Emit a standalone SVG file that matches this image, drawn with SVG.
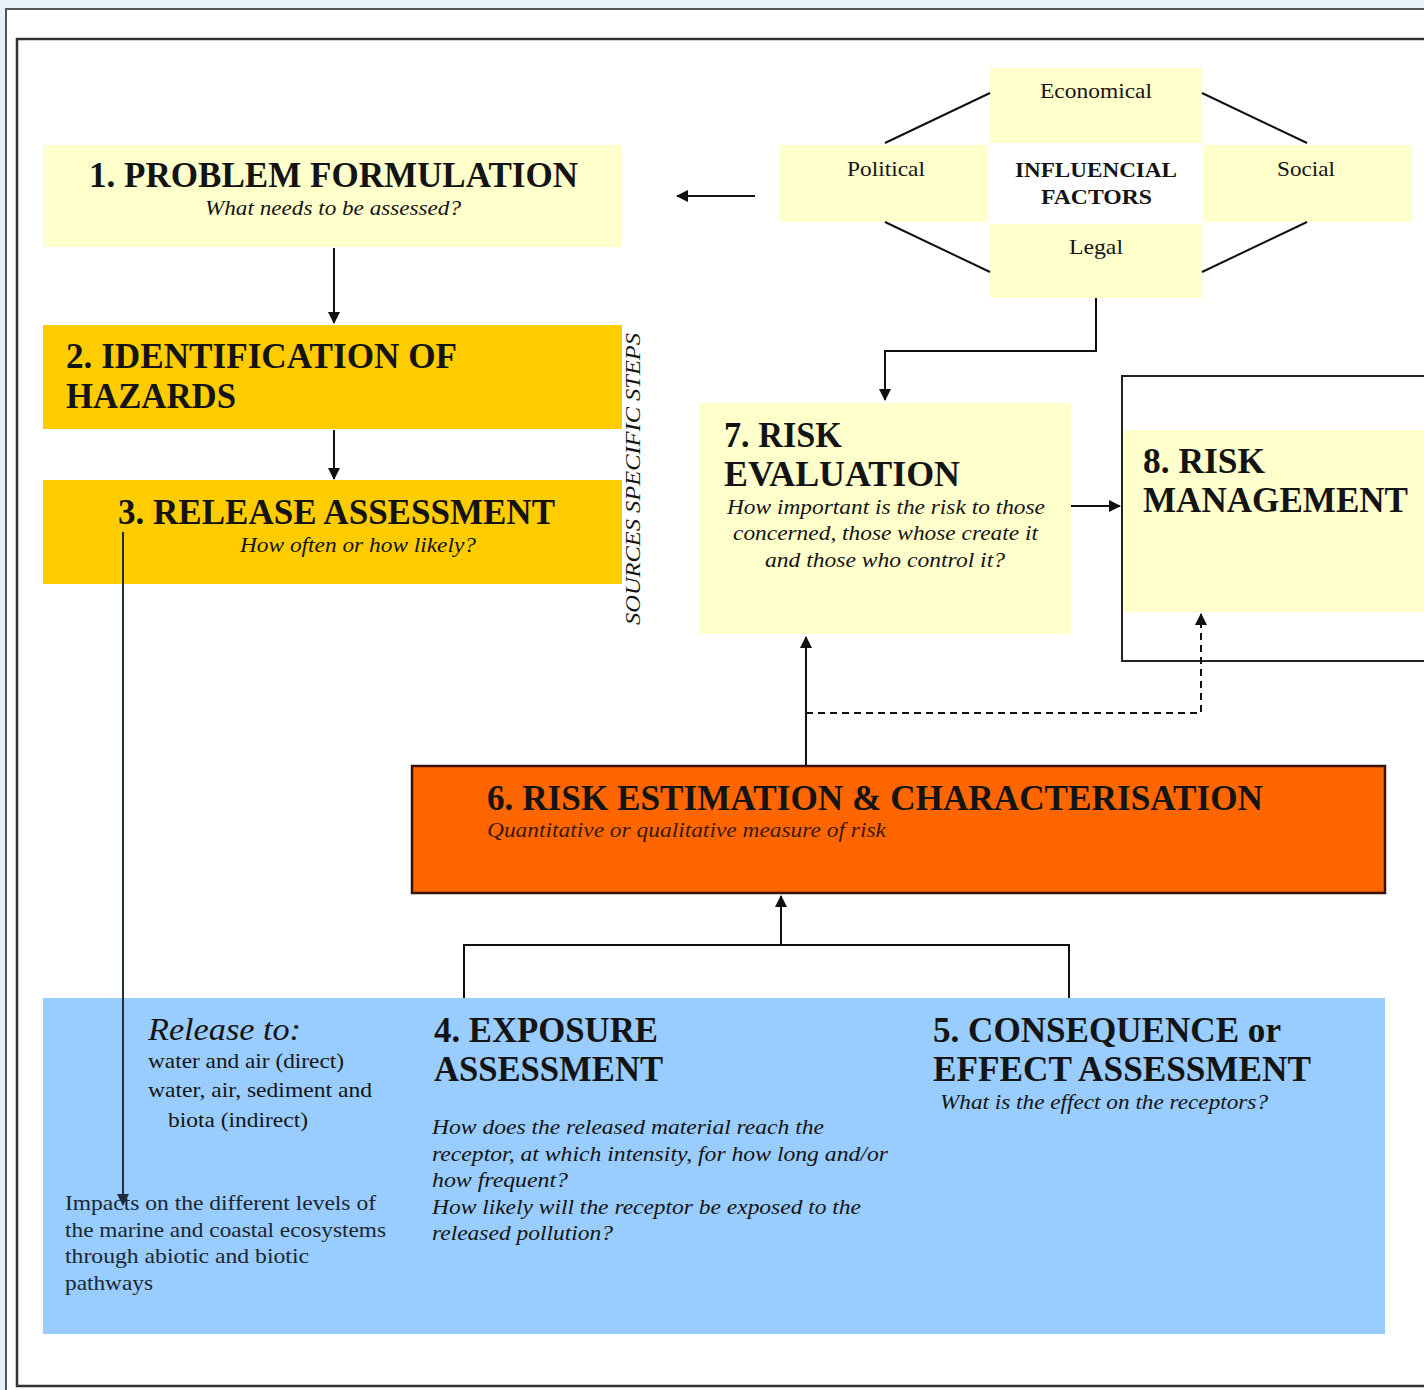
<svg xmlns="http://www.w3.org/2000/svg" width="1424" height="1390" viewBox="0 0 1424 1390">
<style>
text{font-family:"Liberation Serif","Times New Roman",serif;fill:#141414}
.t{font-weight:bold;font-size:35px}
.s{font-style:italic;font-size:21px}
.f{font-size:21px}
.ln{stroke:#111;stroke-width:2;fill:none}
.pale{fill:#FFFFCC}
</style>
<defs>
<marker id="ah" viewBox="0 0 12 12" refX="11" refY="6" markerWidth="12" markerHeight="12" markerUnits="userSpaceOnUse" orient="auto">
<path d="M0,0 L12,6 L0,12 z" fill="#111"/>
</marker>
<marker id="ah2" viewBox="0 0 12 12" refX="11" refY="6" markerWidth="12" markerHeight="12" markerUnits="userSpaceOnUse" orient="auto">
<path d="M0,0 L12,6 L0,12 z" fill="#1e2e3a"/>
</marker>
</defs>
<rect x="0" y="0" width="1424" height="1390" fill="#e9f0f8"/>
<rect x="6" y="9" width="1430" height="1390" fill="#ffffff" stroke="#555" stroke-width="2"/>
<rect x="17" y="39" width="1420" height="1347" fill="#ffffff" stroke="#333" stroke-width="2.5"/>

<g id="n1">
<rect class="pale" x="43" y="145" width="579" height="102"/>
<text class="t" x="89" y="187" textLength="489" lengthAdjust="spacingAndGlyphs">1. PROBLEM FORMULATION</text>
<text class="s" x="205" y="215" textLength="256" lengthAdjust="spacingAndGlyphs">What needs to be assessed?</text>
</g>

<g id="factors">
<rect class="pale" x="990" y="68" width="212" height="75"/>
<rect class="pale" x="780" y="145" width="208" height="77"/>
<rect class="pale" x="1204" y="145" width="208" height="77"/>
<rect class="pale" x="990" y="224" width="212" height="74"/>
<text class="f" x="1040" y="98" textLength="112" lengthAdjust="spacingAndGlyphs">Economical</text>
<text class="f" x="847" y="176" textLength="78" lengthAdjust="spacingAndGlyphs">Political</text>
<text class="f" x="1015" y="177" font-weight="bold" textLength="162" lengthAdjust="spacingAndGlyphs">INFLUENCIAL</text>
<text class="f" x="1041" y="204" font-weight="bold" textLength="111" lengthAdjust="spacingAndGlyphs">FACTORS</text>
<text class="f" x="1277" y="176" textLength="58" lengthAdjust="spacingAndGlyphs">Social</text>
<text class="f" x="1069" y="254" textLength="54" lengthAdjust="spacingAndGlyphs">Legal</text>
</g>

<g id="n2">
<rect x="43" y="325" width="579" height="104" fill="#FFCC00"/>
<text class="t" x="66" y="368" textLength="391" lengthAdjust="spacingAndGlyphs">2. IDENTIFICATION OF</text>
<text class="t" x="66" y="408" textLength="170" lengthAdjust="spacingAndGlyphs">HAZARDS</text>
</g>

<g id="n3">
<rect x="43" y="480" width="579" height="104" fill="#FFCC00"/>
<text class="t" x="118" y="524" textLength="437" lengthAdjust="spacingAndGlyphs">3. RELEASE ASSESSMENT</text>
<text class="s" x="240" y="552" textLength="236" lengthAdjust="spacingAndGlyphs">How often or how likely?</text>
</g>

<g id="sources">
<text class="s" transform="translate(640,625) rotate(-90)" x="0" y="0" textLength="292" lengthAdjust="spacingAndGlyphs">SOURCES SPECIFIC STEPS</text>
</g>

<g id="n7">
<rect class="pale" x="700" y="403" width="371" height="231"/>
<text class="t" x="724" y="447" textLength="118" lengthAdjust="spacingAndGlyphs">7. RISK</text>
<text class="t" x="724" y="486" textLength="236" lengthAdjust="spacingAndGlyphs">EVALUATION</text>
<text class="s" x="727" y="514" textLength="318" lengthAdjust="spacingAndGlyphs">How important is the risk to those</text>
<text class="s" x="733" y="540" textLength="305" lengthAdjust="spacingAndGlyphs">concerned, those whose create it</text>
<text class="s" x="765" y="567" textLength="240" lengthAdjust="spacingAndGlyphs">and  those who control it?</text>
</g>

<g id="n8">
<rect x="1122" y="376" width="320" height="285" fill="#ffffff" stroke="#222" stroke-width="2"/>
<rect class="pale" x="1124" y="430" width="310" height="182"/>
<text class="t" x="1143" y="473" textLength="122" lengthAdjust="spacingAndGlyphs">8. RISK</text>
<text class="t" x="1143" y="512" textLength="265" lengthAdjust="spacingAndGlyphs">MANAGEMENT</text>
</g>

<g id="n6">
<rect x="412" y="766" width="973" height="127" fill="#FF6600" stroke="#3a1208" stroke-width="2.5"/>
<text class="t" x="487" y="810" textLength="776" lengthAdjust="spacingAndGlyphs">6. RISK ESTIMATION &amp; CHARACTERISATION</text>
<text class="s" x="487" y="837" textLength="399" lengthAdjust="spacingAndGlyphs" style="fill:#3a1a08">Quantitative or qualitative measure of risk</text>
</g>

<g id="n45">
<rect x="43" y="998" width="1342" height="336" fill="#99CCFF"/>
<text x="148" y="1040" font-size="31" font-style="italic" textLength="153" lengthAdjust="spacingAndGlyphs">Release to:</text>
<text class="f" x="148" y="1068" textLength="196" lengthAdjust="spacingAndGlyphs">water and air (direct)</text>
<text class="f" x="148" y="1097" textLength="224" lengthAdjust="spacingAndGlyphs">water, air, sediment and</text>
<text class="f" x="168" y="1127" textLength="140" lengthAdjust="spacingAndGlyphs">biota (indirect)</text>
<text class="f" x="65" y="1210" textLength="311" lengthAdjust="spacingAndGlyphs" style="fill:#1a2632">Impacts on the different levels of</text>
<text class="f" x="65" y="1237" textLength="321" lengthAdjust="spacingAndGlyphs" style="fill:#1a2632">the marine and coastal ecosystems</text>
<text class="f" x="65" y="1263" textLength="244" lengthAdjust="spacingAndGlyphs" style="fill:#1a2632">through abiotic and  biotic</text>
<text class="f" x="65" y="1290" textLength="88" lengthAdjust="spacingAndGlyphs" style="fill:#1a2632">pathways</text>
<text class="t" x="434" y="1042" textLength="224" lengthAdjust="spacingAndGlyphs">4. EXPOSURE</text>
<text class="t" x="434" y="1081" textLength="229" lengthAdjust="spacingAndGlyphs">ASSESSMENT</text>
<text class="s" x="432" y="1134" textLength="392" lengthAdjust="spacingAndGlyphs">How does the released material reach the</text>
<text class="s" x="432" y="1161" textLength="456" lengthAdjust="spacingAndGlyphs">receptor, at which intensity, for how long and/or</text>
<text class="s" x="432" y="1187" textLength="136" lengthAdjust="spacingAndGlyphs">how frequent?</text>
<text class="s" x="432" y="1214" textLength="429" lengthAdjust="spacingAndGlyphs">How likely will the receptor be exposed to the</text>
<text class="s" x="432" y="1240" textLength="181" lengthAdjust="spacingAndGlyphs">released pollution?</text>
<text class="t" x="933" y="1042" textLength="348" lengthAdjust="spacingAndGlyphs">5. CONSEQUENCE or</text>
<text class="t" x="933" y="1081" textLength="378" lengthAdjust="spacingAndGlyphs">EFFECT ASSESSMENT</text>
<text class="s" x="940" y="1109" textLength="328" lengthAdjust="spacingAndGlyphs">What is the effect on the receptors?</text>
</g>

<g id="connectors">
<line class="ln" x1="755" y1="196" x2="677" y2="196" marker-end="url(#ah)"/>
<line class="ln" x1="990" y1="93" x2="885" y2="143"/>
<line class="ln" x1="1202" y1="93" x2="1307" y2="143"/>
<line class="ln" x1="885" y1="222" x2="990" y2="272"/>
<line class="ln" x1="1307" y1="222" x2="1202" y2="272"/>
<polyline class="ln" points="1096,298 1096,351 885,351 885,400" marker-end="url(#ah)"/>
<line class="ln" x1="334" y1="248" x2="334" y2="323" marker-end="url(#ah)"/>
<line class="ln" x1="334" y1="430" x2="334" y2="479" marker-end="url(#ah)"/>
<line x1="123" y1="532" x2="123" y2="1205" stroke="#1e2e3a" stroke-width="2" marker-end="url(#ah2)"/>
<line class="ln" x1="1071" y1="506" x2="1120" y2="506" marker-end="url(#ah)"/>
<line class="ln" x1="806" y1="765" x2="806" y2="637" marker-end="url(#ah)"/>
<polyline class="ln" points="806,713 1201,713 1201,614" stroke-dasharray="7,5" marker-end="url(#ah)"/>
<polyline class="ln" points="464,998 464,945 1069,945 1069,998"/>
<line class="ln" x1="781" y1="945" x2="781" y2="896" marker-end="url(#ah)"/>
</g>
</svg>
